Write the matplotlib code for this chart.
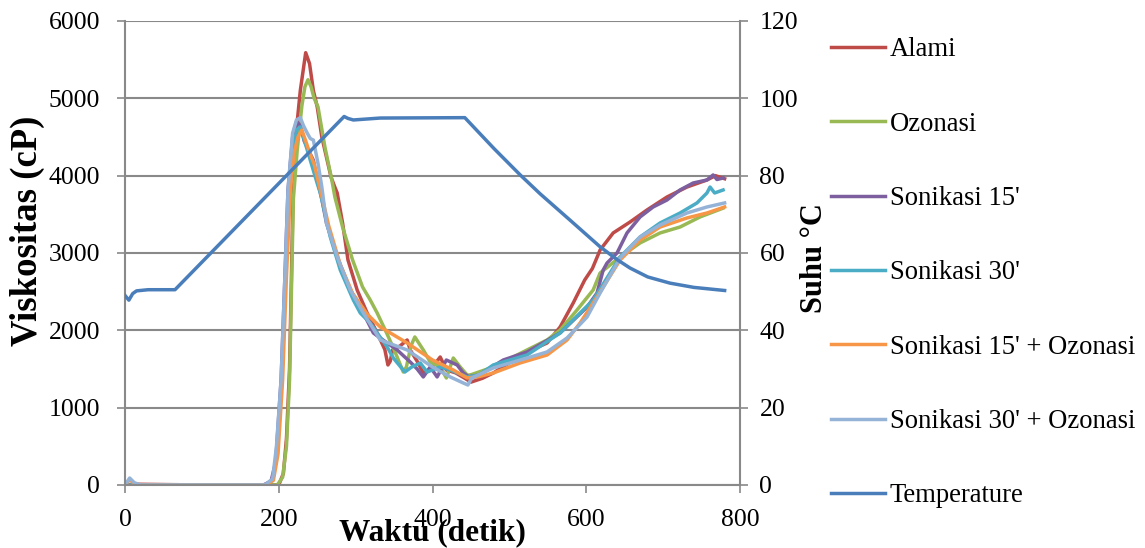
import matplotlib.pyplot as plt

plt.rcParams['font.family'] = ['Liberation Serif', 'DejaVu Serif']

# Viscosity series (time in s, viscosity in cP)
alami_x = [0, 10, 100, 200, 206, 210, 214, 219, 223, 228, 235, 240, 245, 250, 256, 262, 268, 273, 276,
           283, 290, 302, 315, 328, 338, 342, 345, 348, 358, 367, 371, 380, 388, 398, 410, 418, 430,
           442, 450, 465, 479, 500, 523, 549, 566, 583, 598, 608, 618, 635, 657, 679, 705, 731, 757,
           768, 780]
alami_y = [0, 10, 0, 0, 150, 600, 1500, 3944, 4600, 5100, 5590, 5450, 5100, 4890, 4500, 4240, 3980,
           3850, 3776, 3388, 2910, 2520, 2224, 1966, 1750, 1552, 1600, 1746, 1800, 1875, 1746, 1600,
           1448, 1500, 1655, 1487, 1450, 1380, 1330, 1380, 1448, 1580, 1720, 1836, 2043, 2353, 2651,
           2800, 3039, 3259, 3401, 3556, 3724, 3853, 3944, 4000, 3960]

ozon_x = [0, 100, 198, 205, 210, 214, 219, 224, 230, 234, 238, 242, 246, 251, 260, 269, 273, 283,
          296, 309, 319, 328, 341, 350, 362, 366, 372, 377, 388, 397, 410, 418, 427, 436, 445, 449,
          479, 523, 549, 566, 588, 609, 618, 644, 670, 696, 722, 748, 778]
ozon_y = [0, 0, 0, 100, 500, 1358, 3700, 4332, 4900, 5150, 5240, 5150, 5000, 4890, 4370, 3944, 3724,
          3336, 2910, 2560, 2392, 2224, 1950, 1750, 1461, 1526, 1800, 1914, 1746, 1590, 1526, 1384,
          1642, 1526, 1422, 1422, 1526, 1746, 1875, 2004, 2263, 2522, 2741, 2948, 3130, 3259, 3336,
          3466, 3580]

son15_x = [0, 100, 180, 190, 196, 203, 208, 212, 218, 223, 228, 233, 240, 245, 250, 256, 262, 276,
           293, 310, 323, 332, 354, 371, 380, 388, 397, 406, 418, 432, 440, 447, 460, 492, 523, 566,
           601, 614, 622, 627, 640, 653, 670, 687, 705, 722, 739, 757, 765, 770, 778]
son15_y = [0, 0, 0, 50, 300, 1358, 2700, 3815, 4500, 4700, 4650, 4450, 4300, 4200, 3944, 3700, 3388,
           2948, 2522, 2224, 1966, 1900, 1746, 1590, 1500, 1397, 1526, 1397, 1616, 1552, 1448, 1400,
           1420, 1616, 1720, 1966, 2300, 2483, 2780, 2870, 3000, 3259, 3466, 3595, 3685, 3815, 3905,
           3944, 4009, 3950, 3970]

son30_x = [0, 100, 182, 192, 198, 204, 209, 214, 219, 224, 228, 232, 238, 244, 250, 254, 267, 280,
           297, 306, 319, 328, 341, 349, 364, 373, 384, 393, 410, 423, 445, 460, 479, 523, 566, 609,
           644, 670, 696, 722, 744, 757, 761, 767, 778]
son30_y = [0, 0, 0, 60, 400, 1358, 2800, 3800, 4400, 4600, 4630, 4500, 4300, 4100, 3900, 3776, 3207,
           2780, 2392, 2224, 2095, 1966, 1785, 1642, 1461, 1526, 1578, 1461, 1526, 1487, 1397, 1420,
           1552, 1681, 1966, 2392, 2948, 3207, 3388, 3517, 3647, 3776, 3853, 3776, 3815]

son15oz_x = [0, 6, 12, 20, 100, 183, 193, 199, 205, 210, 215, 220, 225, 230, 235, 240, 246, 252,
             258, 265, 280, 296, 315, 332, 367, 400, 427, 445, 460, 479, 514, 549, 575, 592, 614,
             644, 670, 696, 731, 757, 780]
son15oz_y = [0, 70, 20, 0, 0, 0, 60, 400, 1358, 2700, 3800, 4300, 4500, 4590, 4450, 4300, 4150, 3900,
             3650, 3350, 2850, 2480, 2210, 2043, 1836, 1616, 1487, 1384, 1400, 1448, 1578, 1681, 1875,
             2095, 2431, 2910, 3168, 3336, 3453, 3517, 3595]

son30oz_x = [0, 6, 12, 20, 100, 182, 192, 197, 203, 208, 212, 218, 223, 228, 232, 237, 241, 245,
             251, 256, 262, 276, 293, 310, 332, 367, 400, 423, 440, 446, 451, 479, 523, 549, 575,
             601, 618, 644, 670, 696, 731, 757, 780]
son30oz_y = [0, 90, 30, 0, 0, 0, 80, 500, 1358, 2700, 3815, 4550, 4720, 4750, 4650, 4550, 4480, 4460,
             4160, 3853, 3388, 2948, 2522, 2224, 1875, 1746, 1526, 1397, 1319, 1293, 1384, 1513, 1642,
             1720, 1901, 2172, 2483, 2935, 3207, 3362, 3517, 3595, 3647]

# Temperature (degC) on the secondary axis
temp_x = [0, 5, 10, 15, 30, 65, 285, 290, 297, 332, 442, 480, 514, 540, 580, 618, 640, 657, 680,
          709, 740, 780]
temp_y = [49, 47.8, 49.5, 50.2, 50.5, 50.5, 95.3, 94.8, 94.4, 94.9, 95, 87, 80.2, 75.3, 68.3, 61.6,
          58.3, 56.1, 53.8, 52.2, 51.1, 50.3]

series = [
    ('Alami', alami_x, alami_y, '#BE4B48'),
    ('Ozonasi', ozon_x, ozon_y, '#98B954'),
    ("Sonikasi 15'", son15_x, son15_y, '#7D5FA0'),
    ("Sonikasi 30'", son30_x, son30_y, '#4BACC6'),
    ("Sonikasi 15' + Ozonasi", son15oz_x, son15oz_y, '#F79646'),
    ("Sonikasi 30' + Ozonasi", son30oz_x, son30oz_y, '#95B3D7'),
]

grey = '#898989'

fig = plt.figure(figsize=(11.45, 5.48), dpi=100)
ax = fig.add_axes([0.1092, 0.115, 0.5371, 0.8467])

handles = []
for name, xs, ys, col in series:
    h, = ax.plot(xs, ys, color=col, lw=2.5, label=name, solid_joinstyle='round')
    handles.append(h)

ax.set_xlim(0, 800)
ax.set_ylim(0, 6000)
ax.set_xticks(range(0, 801, 200))
ax.set_yticks(range(0, 6001, 1000))
ax.grid(axis='y', color=grey, lw=1.5)
ax.set_axisbelow(True)

ax2 = ax.twinx()
h, = ax2.plot(temp_x, temp_y, color='#4A7EBB', lw=2.5, label='Temperature')
handles.append(h)
ax2.set_ylim(0, 120)
ax2.set_yticks(range(0, 121, 20))

for a in (ax, ax2):
    a.spines['top'].set_visible(False)
    for s in ('left', 'right', 'bottom'):
        a.spines[s].set_color(grey)
        a.spines[s].set_linewidth(1.5)
    a.tick_params(length=6, width=1.2, color=grey, labelsize=18.5)
ax.tick_params(axis='y', pad=12)
ax.tick_params(axis='x', pad=11)
ax2.tick_params(axis='y', pad=8)
ax.spines['right'].set_visible(False)
ax2.spines['left'].set_visible(False)
ax2.spines['bottom'].set_visible(False)

ax.set_xlabel('Waktu (detik)', fontsize=22.5, fontweight='bold', labelpad=-9)
ax.set_ylabel('Viskositas (cP)', fontsize=26.5, fontweight='bold')
ax.yaxis.set_label_coords(-0.13, 0.547)
ax2.set_ylabel('Suhu \u00b0C', fontsize=22, fontweight='bold')
ax2.yaxis.set_label_coords(1.098, 0.489)

fig.legend(handles=handles, loc='center left', bbox_to_anchor=(0.726, 0.502), frameon=False,
           fontsize=19.2, handlelength=2.0, handletextpad=0.2, labelspacing=1.85, borderpad=0,
           borderaxespad=0)

fig.savefig('out.png', dpi=100)
